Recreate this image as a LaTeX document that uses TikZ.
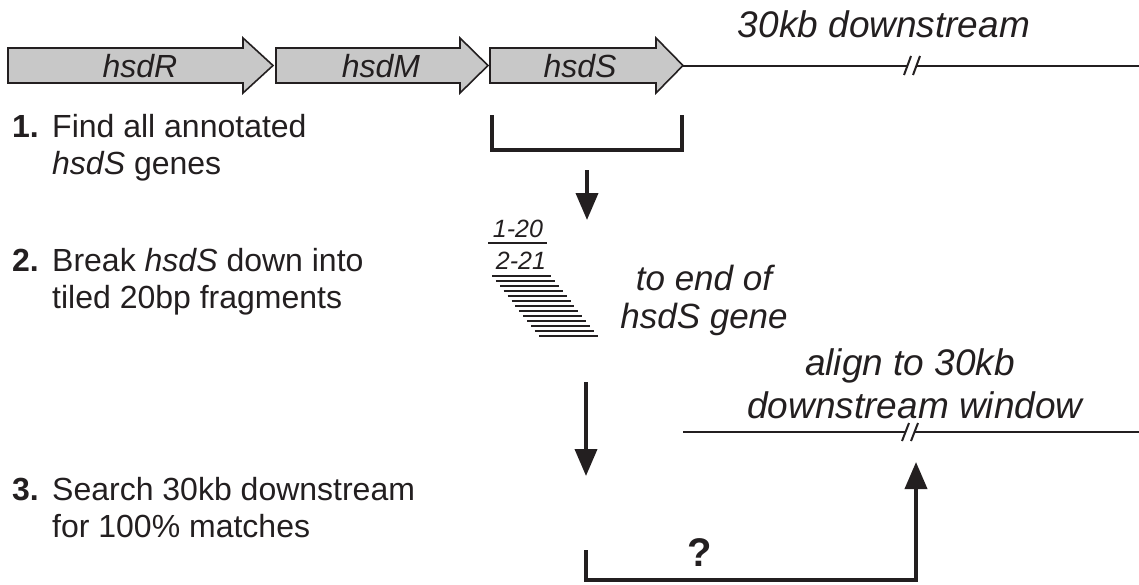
\documentclass[tikz,border=0pt]{standalone}
\usepackage{fontspec}
\setmainfont{Liberation Sans}
\usetikzlibrary{arrows.meta}
\definecolor{genefill}{RGB}{200,200,200}
\definecolor{ink}{RGB}{35,31,32}
\tikzset{
 gene/.style={draw=ink, fill=genefill, line width=1.6pt, line join=miter},
 genelabel/.style={font=\fontsize{32}{36}\selectfont\itshape, text=ink, inner sep=0pt, anchor=base},
 steptext/.style={font=\fontsize{32}{37}\selectfont, text=ink, inner sep=0pt, anchor=base west},
 stepnum/.style={font=\fontsize{32}{37}\selectfont\bfseries, text=ink, inner sep=0pt, anchor=base west},
 biglabel/.style={font=\fontsize{37}{44}\selectfont\itshape, text=ink, inner sep=0pt, anchor=base},
 midlabel/.style={font=\fontsize{35}{40}\selectfont\itshape, text=ink, inner sep=0pt, anchor=base},
 fraglabel/.style={font=\fontsize{25}{29}\selectfont\itshape, text=ink, inner sep=0pt, anchor=base},
 dnaline/.style={draw=ink, line width=2pt},
 bracketline/.style={draw=ink, line width=4pt, line join=miter},
 flowarrow/.style={draw=ink, line width=3.8pt, -{Triangle[length=27pt,width=22pt]}},
 frag/.style={draw=ink, line width=2.2pt},
}
\begin{document}
\begin{tikzpicture}[x=1pt,y=-1pt]
\fill[white] (0,0) rectangle (1139,584);
\useasboundingbox (0,0) rectangle (1139,584);

% gene arrows
\draw[gene] (8,48) -- (243,48) -- (243,38) -- (273,65.5) -- (243,93) -- (243,83) -- (8,83) -- cycle;
\draw[gene] (276,48) -- (460,48) -- (460,38) -- (488,65.5) -- (460,93) -- (460,83) -- (276,83) -- cycle;
\draw[gene] (490,48) -- (656,48) -- (656,38) -- (683,65.5) -- (656,93) -- (656,83) -- (490,83) -- cycle;
\node[genelabel] (hsdR) at (140,77) {hsdR};
\node[genelabel] (hsdM) at (381,77) {hsdM};
\node[genelabel] (hsdS) at (580,77) {hsdS};

% downstream line with break
\coordinate (d1a) at (683,65.5);
\coordinate (d1b) at (908,65.5);
\coordinate (d1c) at (917,65.5);
\coordinate (d1d) at (1139,65.5);
\draw[dnaline] (d1a) -- (d1b);
\draw[dnaline] (d1c) -- (d1d);
\draw[dnaline] (904,75) -- (911,56);
\draw[dnaline] (913,75) -- (920,56);
\node[biglabel] (ds) at (884,37) {30kb downstream};

% steps text
\node[stepnum] (n1) at (12,137) {1.};
\node[steptext] (t1a) at (52,137) {Find all annotated};
\node[steptext] (t1b) at (52,174) {\textit{hsdS} genes};
\node[stepnum] (n2) at (12,271) {2.};
\node[steptext] (t2a) at (52,271) {Break \textit{hsdS} down into};
\node[steptext] (t2b) at (52,308) {tiled 20bp fragments};
\node[stepnum] (n3) at (12,500) {3.};
\node[steptext] (t3a) at (52,500) {Search 30kb downstream};
\node[steptext] (t3b) at (52,537) {for 100\% matches};

% bracket under hsdS
\draw[bracketline] (492,115) -- (492,150) -- (682,150) -- (682,115);

% arrow 1
\coordinate (a1s) at (587,170);
\coordinate (a1e) at (587,220);
\draw[flowarrow] (a1s) -- (a1e);

% fragments
\node[fraglabel] (f1) at (518,237) {1-20};
\draw[frag, line width=2.6pt] (488,243) -- (547,243);
\node[fraglabel] (f2) at (521,269) {2-21};
\foreach \i in {0,...,12} {
  \draw[frag] (492+3.9*\i, 276+5*\i) -- ++(59,0);
}
\node[midlabel] (te1) at (704,290) {to end of};
\node[midlabel] (te2) at (704,328) {hsdS gene};

% arrow 2
\coordinate (a2s) at (586,382);
\coordinate (a2e) at (586,476);
\draw[flowarrow] (a2s) -- (a2e);

% window line
\coordinate (w1a) at (683,432);
\coordinate (w1b) at (906,432);
\coordinate (w1c) at (915,432);
\coordinate (w1d) at (1139,432);
\draw[dnaline] (w1a) -- (w1b);
\draw[dnaline] (w1c) -- (w1d);
\draw[dnaline] (902,441) -- (909,423);
\draw[dnaline] (911,441) -- (918,423);
\node[biglabel] (al1) at (910,375) {align to 30kb};
\node[biglabel] (al2) at (915,418) {downstream window};

% bottom bracket and up arrow
\coordinate (b0) at (586,550);
\coordinate (b1) at (586,580);
\coordinate (b2) at (916,580);
\coordinate (b3) at (916,462);
\draw[flowarrow, line join=miter] (b0) -- (b1) -- (b2) -- (b3);
\node[font=\fontsize{40}{44}\selectfont\bfseries, text=ink, inner sep=0pt] (q) at (700,553) {?};
\end{tikzpicture}
\end{document}
